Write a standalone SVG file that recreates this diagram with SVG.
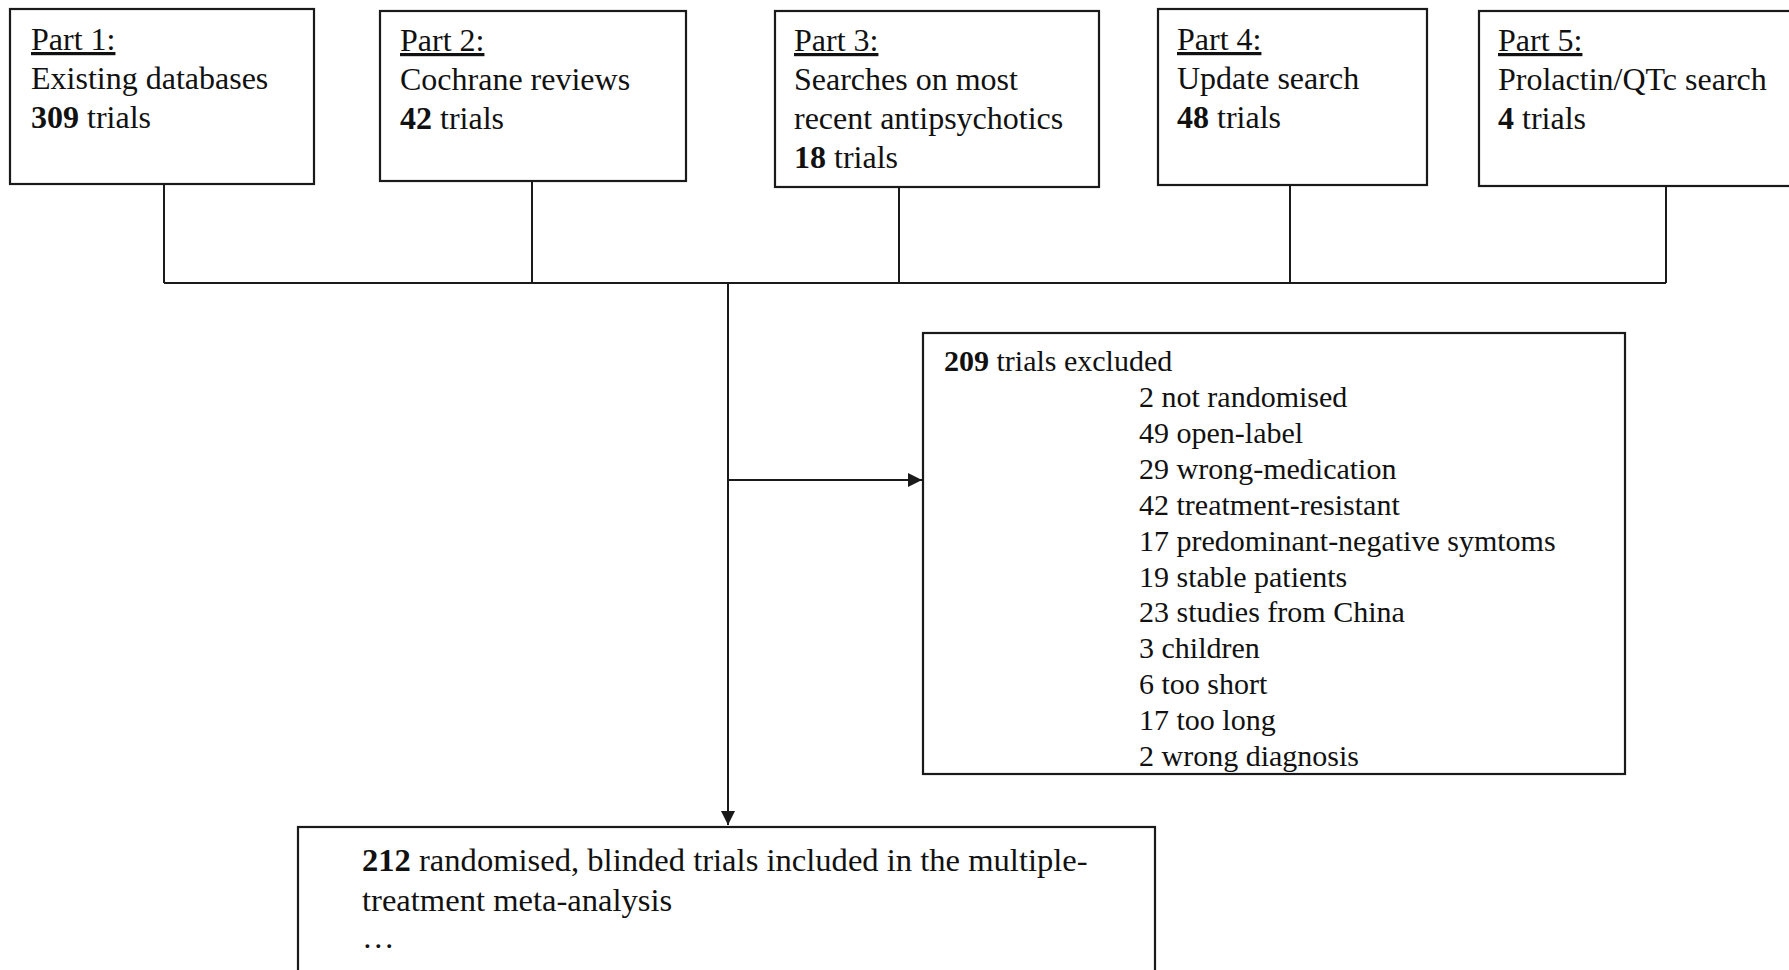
<svg xmlns="http://www.w3.org/2000/svg" width="1789" height="970" viewBox="0 0 1789 970">
<style>
.box{fill:#fff;stroke:#1a1a1a;stroke-width:2.2}
.ln{fill:none;stroke:#1a1a1a;stroke-width:2}
text{font-family:"Liberation Serif","Times New Roman",serif;fill:#111}
.t{font-size:32px}
.m{font-size:32.6px}
.s{font-size:30px}
.u{text-decoration:underline}
.b{font-weight:bold}
</style>
<defs>
<marker id="ah" viewBox="0 0 10 10" refX="10" refY="5" markerWidth="14" markerHeight="14" markerUnits="userSpaceOnUse" orient="auto">
<path d="M0,0 L10,5 L0,10 z" fill="#1a1a1a"/>
</marker>
</defs>
<rect width="1789" height="970" fill="#fff"/>
<g id="connectors">
<path class="ln" d="M164,184 V283 M532,181 V283 M899,187 V283 M1290,185 V283 M1666,186 V283 M164,283 H1666"/>
<path class="ln" d="M728,283 V825" marker-end="url(#ah)"/>
<path class="ln" d="M728,480 H922" marker-end="url(#ah)"/>
</g>
<g id="part1">
<rect class="box" x="10" y="9" width="304" height="175"/>
<text class="t" x="31" y="50"><tspan class="u">Part 1:</tspan></text>
<text class="t" x="31" y="89">Existing databases</text>
<text class="t" x="31" y="128"><tspan class="b">309</tspan> trials</text>
</g>
<g id="part2">
<rect class="box" x="380" y="11" width="306" height="170"/>
<text class="t" x="400" y="51"><tspan class="u">Part 2:</tspan></text>
<text class="t" x="400" y="90">Cochrane reviews</text>
<text class="t" x="400" y="129"><tspan class="b">42</tspan> trials</text>
</g>
<g id="part3">
<rect class="box" x="775" y="11" width="324" height="176"/>
<text class="t" x="794" y="51"><tspan class="u">Part 3:</tspan></text>
<text class="t" x="794" y="90">Searches on most</text>
<text class="t" x="794" y="129">recent antipsychotics</text>
<text class="t" x="794" y="168"><tspan class="b">18</tspan> trials</text>
</g>
<g id="part4">
<rect class="box" x="1158" y="9" width="269" height="176"/>
<text class="t" x="1177" y="50"><tspan class="u">Part 4:</tspan></text>
<text class="t" x="1177" y="89">Update search</text>
<text class="t" x="1177" y="128"><tspan class="b">48</tspan> trials</text>
</g>
<g id="part5">
<rect class="box" x="1479" y="11" width="330" height="175"/>
<text class="t" x="1498" y="51"><tspan class="u">Part 5:</tspan></text>
<text class="t" x="1498" y="90">Prolactin/QTc search</text>
<text class="t" x="1498" y="129"><tspan class="b">4</tspan> trials</text>
</g>
<g id="excluded">
<rect class="box" x="923" y="333" width="702" height="441"/>
<text class="s" x="944" y="371"><tspan class="b">209</tspan> trials excluded</text>
<text class="s" x="1139" y="407">2 not randomised</text>
<text class="s" x="1139" y="443">49 open-label</text>
<text class="s" x="1139" y="479">29 wrong-medication</text>
<text class="s" x="1139" y="515">42 treatment-resistant</text>
<text class="s" x="1139" y="551">17 predominant-negative symtoms</text>
<text class="s" x="1139" y="587">19 stable patients</text>
<text class="s" x="1139" y="622">23 studies from China</text>
<text class="s" x="1139" y="658">3 children</text>
<text class="s" x="1139" y="694">6 too short</text>
<text class="s" x="1139" y="730">17 too long</text>
<text class="s" x="1139" y="766">2 wrong diagnosis</text>
</g>
<g id="included">
<rect class="box" x="298" y="827" width="857" height="200"/>
<text class="m" x="362" y="871"><tspan class="b">212</tspan> randomised, blinded trials included in the multiple-</text>
<text class="m" x="362" y="911">treatment meta-analysis</text>
<text class="m" x="362" y="948">…</text>
</g>
</svg>
